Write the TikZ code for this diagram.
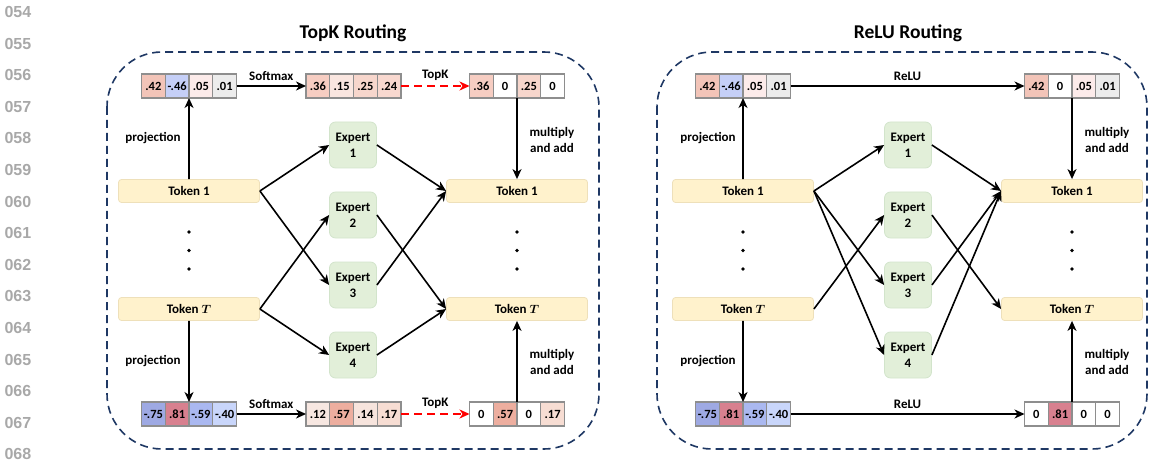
\documentclass[tikz,border=0pt]{standalone}
\usepackage{amsmath,amssymb}
\usepackage{fontspec}
\setmainfont{Carlito}
\newfontfamily\numfont{Liberation Sans}
\usetikzlibrary{arrows.meta,calc}

\definecolor{panelnavy}{HTML}{1F3864}
\definecolor{cellgray}{HTML}{8E8E8E}
\definecolor{tokenfill}{HTML}{FFF2CC}
\definecolor{tokenline}{HTML}{EEE0BA}
\definecolor{expertfill}{HTML}{E2EFD9}
\definecolor{expertline}{HTML}{D2E4CB}
\definecolor{numgray}{HTML}{A8A8A8}
\definecolor{wA}{HTML}{F2C4B8}
\definecolor{wB}{HTML}{C5CFF7}
\definecolor{wC}{HTML}{FCEBEA}
\definecolor{wD}{HTML}{ECECEC}
\definecolor{sA}{HTML}{F6CDC2}
\definecolor{sB}{HTML}{FAE6E0}
\definecolor{sC}{HTML}{F7D6CC}
\definecolor{sD}{HTML}{F8D8CF}
\definecolor{wE}{HTML}{9EA9E3}
\definecolor{wF}{HTML}{D8808F}
\definecolor{wG}{HTML}{AAB8F0}
\definecolor{wH}{HTML}{C9D6FB}
\definecolor{sE}{HTML}{F7E7E1}
\definecolor{sF}{HTML}{EDAE9F}
\definecolor{sG}{HTML}{F7E4DD}
\definecolor{sH}{HTML}{F7DDD3}

\begin{document}
\begin{tikzpicture}[x=1pt,y=-1pt,
    font=\fontsize{13}{16}\selectfont\bfseries,
    cell/.style={draw=cellgray,line width=1.3pt,minimum width=23.75pt,minimum height=24pt,inner sep=0pt,outer sep=0pt,font=\fontsize{12.5}{15}\selectfont\bfseries},
    token/.style={draw=tokenline,fill=tokenfill,line width=0.8pt,rounded corners=3pt,minimum width=141pt,minimum height=23pt,inner sep=0pt},
    expert/.style={draw=expertline,fill=expertfill,line width=0.8pt,rounded corners=6pt,minimum width=47pt,minimum height=46pt,inner sep=0pt,align=center},
    route/.style={-{Stealth[length=10pt,width=9pt,inset=3pt]},line width=1.6pt},
    topk/.style={route,red,dash pattern=on 8pt off 5pt},
    panel/.style={draw=panelnavy,line width=1.6pt,dash pattern=on 8pt off 5pt,rounded corners=55pt},
    dot/.style={circle,fill=black,inner sep=0pt,minimum size=3.6pt},
    lineno/.style={anchor=west,text=numgray,font=\numfont\bfseries\fontsize{16}{17}\selectfont}]
    \useasboundingbox (0,0) rectangle (1151,465);

    \node[lineno] (n54) at (1,12) {054};
    \node[lineno] (n55) at (1,43.6) {055};
    \node[lineno] (n56) at (1,75.2) {056};
    \node[lineno] (n57) at (1,106.8) {057};
    \node[lineno] (n58) at (1,138.4) {058};
    \node[lineno] (n59) at (1,170) {059};
    \node[lineno] (n60) at (1,201.6) {060};
    \node[lineno] (n61) at (1,233.2) {061};
    \node[lineno] (n62) at (1,264.8) {062};
    \node[lineno] (n63) at (1,296.4) {063};
    \node[lineno] (n64) at (1,328) {064};
    \node[lineno] (n65) at (1,359.6) {065};
    \node[lineno] (n66) at (1,391.2) {066};
    \node[lineno] (n67) at (1,422.8) {067};
    \node[lineno] (n68) at (1,454.4) {068};

    % TopK routing
    \draw[panel] (107,52) rectangle (599,449);
    \node (titleL) at (353,33) {\fontsize{19.5}{22}\selectfont TopK Routing};

    \node[cell,fill=wA] (a1) at (153.4,86) {.42};
    \node[cell,fill=wB] (a2) at (177.15,86) {-.46};
    \node[cell,fill=wC] (a3) at (200.9,86) {.05};
    \node[cell,fill=wD] (a4) at (224.65,86) {.01};
    \node[cell,fill=sA] (b1) at (317.9,86) {.36};
    \node[cell,fill=sB] (b2) at (341.65,86) {.15};
    \node[cell,fill=sC] (b3) at (365.4,86) {.25};
    \node[cell,fill=sD] (b4) at (389.15,86) {.24};
    \node[cell,fill=sA] (c1) at (481.4,86) {.36};
    \node[cell,fill=white] (c2) at (505.15,86) {0};
    \node[cell,fill=sC] (c3) at (528.9,86) {.25};
    \node[cell,fill=white] (c4) at (552.65,86) {0};

    \node[cell,fill=wE] (d1) at (153.4,414) {-.75};
    \node[cell,fill=wF] (d2) at (177.15,414) {.81};
    \node[cell,fill=wG] (d3) at (200.9,414) {-.59};
    \node[cell,fill=wH] (d4) at (224.65,414) {-.40};
    \node[cell,fill=sE] (e1) at (317.9,414) {.12};
    \node[cell,fill=sF] (e2) at (341.65,414) {.57};
    \node[cell,fill=sG] (e3) at (365.4,414) {.14};
    \node[cell,fill=sH] (e4) at (389.15,414) {.17};
    \node[cell,fill=white] (f1) at (481.4,414) {0};
    \node[cell,fill=sF] (f2) at (505.15,414) {.57};
    \node[cell,fill=white] (f3) at (528.9,414) {0};
    \node[cell,fill=sH] (f4) at (552.65,414) {.17};

    \node[token] (tok1) at (189,191) {Token 1};
    \node[token] (tokT) at (189,309) {Token $\boldsymbol{T}$};
    \node[token] (out1) at (517,191) {Token 1};
    \node[token] (outT) at (517,309) {Token $\boldsymbol{T}$};
    \node[dot] (dl1) at (189,232) {};
    \node[dot] (dl2) at (189,250.5) {};
    \node[dot] (dl3) at (189,269) {};
    \node[dot] (dr1) at (517,232) {};
    \node[dot] (dr2) at (517,250.5) {};
    \node[dot] (dr3) at (517,269) {};

    \node[expert] (ex1) at (353,145) {Expert\\1};
    \node[expert] (ex2) at (353,215) {Expert\\2};
    \node[expert] (ex3) at (353,285) {Expert\\3};
    \node[expert] (ex4) at (353,355) {Expert\\4};

    \draw[route] (a4.east) -- (b1.west) node[midway,above=1pt] (smA) {Softmax};
    \draw[topk] (b4.east) -- (c1.west) node[midway,above=1pt,text=black] (tkA) {TopK};
    \draw[route] (d4.east) -- (e1.west) node[midway,above=1pt] (smB) {Softmax};
    \draw[topk] (e4.east) -- (f1.west) node[midway,above=1pt,text=black] (tkB) {TopK};

    \draw[route] (tok1.north) -- (a2.south east);
    \draw[route] (tokT.south) -- (d2.north east);
    \draw[route] (c2.south east) -- (out1.north);
    \draw[route] (f2.north east) -- (outT.south);
    \node (projA) at (153,138) {projection};
    \node (projB) at (153,361) {projection};
    \node[align=center] (mulA) at (552,140) {multiply\\and add};
    \node[align=center] (mulB) at (552,362) {multiply\\and add};

    \draw[route] (tok1.east) -- (ex1.west);
    \draw[route] (tok1.east) -- (ex3.west);
    \draw[route] (tokT.east) -- (ex2.west);
    \draw[route] (tokT.east) -- (ex4.west);
    \draw[route] (ex1.east) -- (out1.west);
    \draw[route] (ex3.east) -- (out1.west);
    \draw[route] (ex2.east) -- (outT.west);
    \draw[route] (ex4.east) -- (outT.west);

    % ReLU routing
    \draw[panel] (657,52) rectangle (1147,449);
    \node (titleR) at (908,33) {\fontsize{19.5}{22}\selectfont ReLU Routing};

    \node[cell,fill=wA] (ra1) at (707.4,86) {.42};
    \node[cell,fill=wB] (ra2) at (731.15,86) {-.46};
    \node[cell,fill=wC] (ra3) at (754.9,86) {.05};
    \node[cell,fill=wD] (ra4) at (778.65,86) {.01};
    \node[cell,fill=wA] (rc1) at (1036.4,86) {.42};
    \node[cell,fill=white] (rc2) at (1060.15,86) {0};
    \node[cell,fill=wC] (rc3) at (1083.9,86) {.05};
    \node[cell,fill=wD] (rc4) at (1107.65,86) {.01};

    \node[cell,fill=wE] (rd1) at (707.4,414) {-.75};
    \node[cell,fill=wF] (rd2) at (731.15,414) {.81};
    \node[cell,fill=wG] (rd3) at (754.9,414) {-.59};
    \node[cell,fill=wH] (rd4) at (778.65,414) {-.40};
    \node[cell,fill=white] (rf1) at (1036.4,414) {0};
    \node[cell,fill=wF] (rf2) at (1060.15,414) {.81};
    \node[cell,fill=white] (rf3) at (1083.9,414) {0};
    \node[cell,fill=white] (rf4) at (1107.65,414) {0};

    \node[token] (rtok1) at (743,191) {Token 1};
    \node[token] (rtokT) at (743,309) {Token $\boldsymbol{T}$};
    \node[token] (rout1) at (1072,191) {Token 1};
    \node[token] (routT) at (1072,309) {Token $\boldsymbol{T}$};
    \node[dot] (rdl1) at (743,232) {};
    \node[dot] (rdl2) at (743,250.5) {};
    \node[dot] (rdl3) at (743,269) {};
    \node[dot] (rdr1) at (1072,232) {};
    \node[dot] (rdr2) at (1072,250.5) {};
    \node[dot] (rdr3) at (1072,269) {};

    \node[expert] (rex1) at (908,145) {Expert\\1};
    \node[expert] (rex2) at (908,215) {Expert\\2};
    \node[expert] (rex3) at (908,285) {Expert\\3};
    \node[expert] (rex4) at (908,355) {Expert\\4};

    \draw[route] (ra4.east) -- (rc1.west) node[midway,above=1pt] (reA) {ReLU};
    \draw[route] (rd4.east) -- (rf1.west) node[midway,above=1pt] (reB) {ReLU};

    \draw[route] (rtok1.north) -- (ra2.south east);
    \draw[route] (rtokT.south) -- (rd2.north east);
    \draw[route] (rc2.south east) -- (rout1.north);
    \draw[route] (rf2.north east) -- (routT.south);
    \node (rprojA) at (708,138) {projection};
    \node (rprojB) at (708,361) {projection};
    \node[align=center] (rmulA) at (1107,140) {multiply\\and add};
    \node[align=center] (rmulB) at (1107,362) {multiply\\and add};

    \draw[route] (rtok1.east) -- (rex1.west);
    \draw[route] (rtok1.east) -- (rex3.west);
    \draw[route] (rtok1.east) -- (rex4.west);
    \draw[route] (rtokT.east) -- (rex2.west);
    \draw[route] (rex1.east) -- (rout1.west);
    \draw[route] (rex3.east) -- (rout1.west);
    \draw[route] (rex4.east) -- (rout1.west);
    \draw[route] (rex2.east) -- (routT.west);
\end{tikzpicture}
\end{document}
